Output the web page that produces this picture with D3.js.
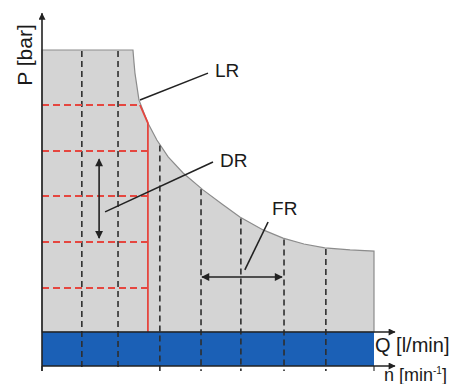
<!DOCTYPE html>
<html><head><meta charset="utf-8">
<script src="https://cdn.jsdelivr.net/npm/d3@7"></script>
<style>html,body{margin:0;padding:0;background:#fff;}svg{display:block;}</style>
</head><body>
<svg id="c" width="457" height="384"></svg>
<script>
// Power-limit curve (Q in % of max flow, P in % of max pressure)
const curveQ = [27.4, 27.7, 28.0, 29.2, 31.9, 34.6, 38.0, 42.5, 48.5, 54.2, 59.6, 66.6, 72.6, 78.9, 85.2, 92.8, 100];
const curveP = [100, 95.7, 91.8, 82.3, 74.1, 68.1, 62.1, 56.4, 50.4, 45.4, 40.8, 36.2, 33.3, 31.2, 29.8, 29.1, 28.7];
// Vertical dashed (flow) lines
const gridQ = [0, 12.0, 22.9, 35.5, 47.9, 59.9, 72.9, 85.5, 100];
// Red dashed pressure-limit lines
const redP = [80.5, 64.2, 48.2, 31.9, 15.6];
// Red limit line (LR corner -> vertical)
const redQ = [29.5, 31.9, 31.9];
const redLineP = [80.5, 74.1, 0];
// Annotation labels
const labels = ["LR", "DR", "FR"];
const labelQ = [52.1, 53.6, 69.3];
const labelP = [90.4, 58.5, 41.5];
// Leader lines [q1,p1,q2,p2]
const leaderLR = [29.5, 82.3, 50.0, 91.8];
const leaderDR = [19.0, 42.6, 51.5, 60.3];
const leaderFR = [61.1, 22.0, 68.1, 39.0];
// Double arrows
const arrowDR = [17.2, 61.3, 17.2, 33.3];
const arrowFR = [48.2, 19.5, 72.3, 19.5];
const axisLabels = ["P [bar]", "Q [l/min]", "n [min", "-1", "]"];

const svg = d3.select("#c");
const x = d3.scaleLinear().domain([0, 100]).range([42, 374]);
const y = d3.scaleLinear().domain([0, 100]).range([332, 50]);
const nAxisY = 366, bottomY = 371;
const xEnd = x(106.3), yTop = y(113);

const defs = svg.append("defs");
function marker(id, color, w, h) {
  defs.append("marker").attr("id", id).attr("viewBox", "0 0 10 10")
    .attr("refX", 9).attr("refY", 5).attr("markerWidth", w).attr("markerHeight", h)
    .attr("markerUnits", "userSpaceOnUse").attr("orient", "auto-start-reverse")
    .append("path").attr("d", "M0,0L10,5L0,10z").attr("fill", color);
}
marker("ah", "#222", 10, 8);
marker("axh", "#222", 9, 7);

// gray area
const areaPts = [[0, 0], [0, 100]].concat(curveQ.map((q, i) => [q, curveP[i]])).concat([[100, 0]]);
svg.append("path")
  .attr("d", d3.line().x(d => x(d[0])).y(d => y(d[1]))(areaPts) + "Z")
  .attr("fill", "#d4d4d4").attr("stroke", "#8c8c8c").attr("stroke-width", 1.2);

// blue band
svg.append("rect").attr("x", x(0)).attr("y", y(0)).attr("width", x(100) - x(0)).attr("height", nAxisY - y(0))
  .attr("fill", "#1b60b6");

// curve height lookup
function curveAt(q) {
  if (q <= curveQ[0]) return 100;
  const i = d3.bisectLeft(curveQ, q);
  if (i >= curveQ.length) return curveP[curveP.length - 1];
  const t = (q - curveQ[i - 1]) / (curveQ[i] - curveQ[i - 1]);
  return curveP[i - 1] + t * (curveP[i] - curveP[i - 1]);
}

// vertical dashed grid
svg.append("g").selectAll("line").data(gridQ.slice(1, -1)).join("line")
  .attr("x1", d => x(d)).attr("x2", d => x(d))
  .attr("y1", d => y(curveAt(d)) + 1).attr("y2", bottomY)
  .attr("stroke", "#2e2e2e").attr("stroke-width", 1.6).attr("stroke-dasharray", "6,4");
// small ticks below band at ends
svg.append("g").selectAll("line").data([gridQ[0], gridQ[gridQ.length - 1]]).join("line")
  .attr("x1", d => x(d)).attr("x2", d => x(d)).attr("y1", nAxisY).attr("y2", bottomY)
  .attr("stroke", "#555").attr("stroke-width", 1.4);

// red dashed lines
svg.append("g").selectAll("line").data(redP).join("line")
  .attr("x1", x(0)).attr("x2", (d, i) => i === 0 ? x(redQ[0]) : x(redQ[1]))
  .attr("y1", d => y(d)).attr("y2", d => y(d))
  .attr("stroke", "#e5463f").attr("stroke-width", 2).attr("stroke-dasharray", "7,4");
// red limit line
svg.append("path")
  .attr("d", d3.line().x(d => x(d[0])).y(d => y(d[1]))(redQ.map((q, i) => [q, redLineP[i]])))
  .attr("fill", "none").attr("stroke", "#e5463f").attr("stroke-width", 1.8);

// axes
svg.append("line").attr("x1", x(0)).attr("x2", x(0)).attr("y1", bottomY).attr("y2", yTop)
  .attr("stroke", "#222").attr("stroke-width", 1.6).attr("marker-end", "url(#axh)");
svg.append("line").attr("x1", x(0)).attr("x2", xEnd).attr("y1", y(0)).attr("y2", y(0))
  .attr("stroke", "#222").attr("stroke-width", 1.4).attr("marker-end", "url(#axh)");
svg.append("line").attr("x1", x(0)).attr("x2", xEnd).attr("y1", nAxisY).attr("y2", nAxisY)
  .attr("stroke", "#222").attr("stroke-width", 1.4).attr("marker-end", "url(#axh)");

// leaders
[leaderLR, leaderDR, leaderFR].forEach(l => {
  svg.append("line").attr("x1", x(l[0])).attr("y1", y(l[1])).attr("x2", x(l[2])).attr("y2", y(l[3]))
    .attr("stroke", "#222").attr("stroke-width", 1.6);
});
// double arrows
[arrowDR, arrowFR].forEach(a => {
  svg.append("line").attr("x1", x(a[0])).attr("y1", y(a[1])).attr("x2", x(a[2])).attr("y2", y(a[3]))
    .attr("stroke", "#222").attr("stroke-width", 1.6)
    .attr("marker-start", "url(#ah)").attr("marker-end", "url(#ah)");
});

// labels
const font = "Liberation Sans, Arial, sans-serif";
svg.append("g").selectAll("text").data(labels).join("text")
  .attr("x", (d, i) => x(labelQ[i])).attr("y", (d, i) => y(labelP[i]))
  .attr("font-family", font).attr("font-size", 19).attr("fill", "#1a1a1a").text(d => d);

svg.append("text").attr("transform", `translate(32,${(22 + 88) / 2}) rotate(-90)`)
  .attr("text-anchor", "middle").attr("font-family", font).attr("font-size", 21).attr("fill", "#1a1a1a")
  .text(axisLabels[0]);
svg.append("text").attr("x", 375).attr("y", 352).attr("font-family", font).attr("font-size", 20)
  .attr("fill", "#1a1a1a").text(axisLabels[1]);
const nt = svg.append("text").attr("x", 384).attr("y", 381).attr("font-family", font).attr("font-size", 18)
  .attr("fill", "#1a1a1a");
nt.append("tspan").text(axisLabels[2]);
nt.append("tspan").attr("font-size", 10).attr("dy", -7).text(axisLabels[3]);
nt.append("tspan").attr("dy", 7).text(axisLabels[4]);
</script>
</body></html>
